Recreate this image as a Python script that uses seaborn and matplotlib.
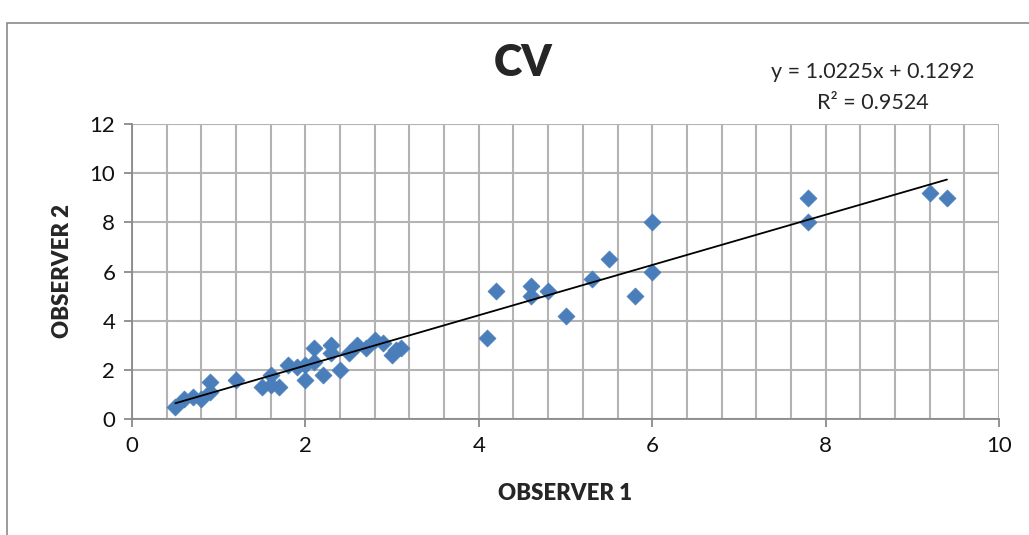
import numpy as np
import pandas as pd
import matplotlib
matplotlib.use("Agg")
import matplotlib.pyplot as plt
import seaborn as sns
from matplotlib.ticker import MultipleLocator
from matplotlib.patches import Rectangle

observer1 = [0.5, 0.6, 0.7, 0.8, 0.9, 0.9, 1.2, 1.5, 1.6, 1.6, 1.7, 1.8, 1.9, 2.0, 2.0,
             2.1, 2.1, 2.2, 2.3, 2.3, 2.4, 2.5, 2.6, 2.7, 2.8, 2.9, 3.0, 3.05, 3.1,
             4.1, 4.2, 4.6, 4.6, 4.8, 5.0, 5.3, 5.5, 5.8, 6.0, 6.0, 7.8, 7.8, 9.2, 9.4]
observer2 = [0.5, 0.8, 0.9, 0.8, 1.5, 1.1, 1.6, 1.3, 1.8, 1.4, 1.3, 2.2, 2.1, 2.2, 1.6,
             2.9, 2.3, 1.8, 3.0, 2.7, 2.0, 2.7, 3.0, 2.9, 3.2, 3.1, 2.6, 2.8, 2.9,
             3.3, 5.2, 5.4, 5.0, 5.2, 4.2, 5.7, 6.5, 5.0, 8.0, 6.0, 9.0, 8.0, 9.2, 9.0]
slope = 1.0225
intercept = 0.1292
r_squared = 0.9524
title = "CV"
x_label = "OBSERVER 1"
y_label = "OBSERVER 2"

sns.set_theme(style="white")
plt.rcParams['font.family'] = ['Lato', 'DejaVu Sans']

df = pd.DataFrame({"x": observer1, "y": observer2})

fig = plt.figure(figsize=(10.29, 5.35), dpi=100)
ax = fig.add_axes([132/1029, 1-419/535, (999-132)/1029, (419-124)/535])

grid_c = "#b3b3b3"
ax.set_xlim(0, 10)
ax.set_ylim(0, 12)
ax.xaxis.set_major_locator(MultipleLocator(2))
ax.xaxis.set_minor_locator(MultipleLocator(0.4))
ax.yaxis.set_major_locator(MultipleLocator(2))
ax.grid(True, which="both", axis="x", color=grid_c, lw=1.5)
ax.grid(True, which="major", axis="y", color=grid_c, lw=1.5)
ax.set_axisbelow(True)
for s in ["top", "right"]:
    ax.spines[s].set_visible(False)
for s in ["left", "bottom"]:
    ax.spines[s].set_color("#8a8a8a")
    ax.spines[s].set_linewidth(1.3)
ax.tick_params(axis="both", which="major", direction="out", length=6, width=1.3,
               color="#8a8a8a", labelsize=16, pad=6, left=True, bottom=True,
               labelcolor="#111111")
ax.tick_params(axis="x", which="minor", length=0)

sns.scatterplot(data=df, x="x", y="y", ax=ax, marker="D", s=75, color="#4a7ebb",
                edgecolor="#4a7ebb", linewidth=0.5, zorder=3, legend=False)

xs = np.array([min(observer1), max(observer1)])
ax.plot(xs, slope*xs + intercept, color="black", lw=1.3, zorder=4)

ax.set_xlabel(x_label, fontsize=16, fontweight="heavy", labelpad=20)
ax.set_ylabel(y_label, fontsize=16, fontweight="heavy", labelpad=12)

fig.text(523/1029, 1-63/535, title, ha="center", va="center", fontsize=31, fontweight="heavy")
fig.text(873/1029, 1-72/535, f"y = {slope}x + {intercept}", ha="center", va="center", fontsize=15.5)
fig.text(873/1029, 1-103/535, f"R² = {r_squared}", ha="center", va="center", fontsize=15.5)

fig.patches.append(Rectangle((7/1029, -0.1), 1.1, 1-23/535+0.1, transform=fig.transFigure,
                             fill=False, edgecolor="#8a8a8a", lw=1.2))

fig.savefig("out.png", dpi=100)
